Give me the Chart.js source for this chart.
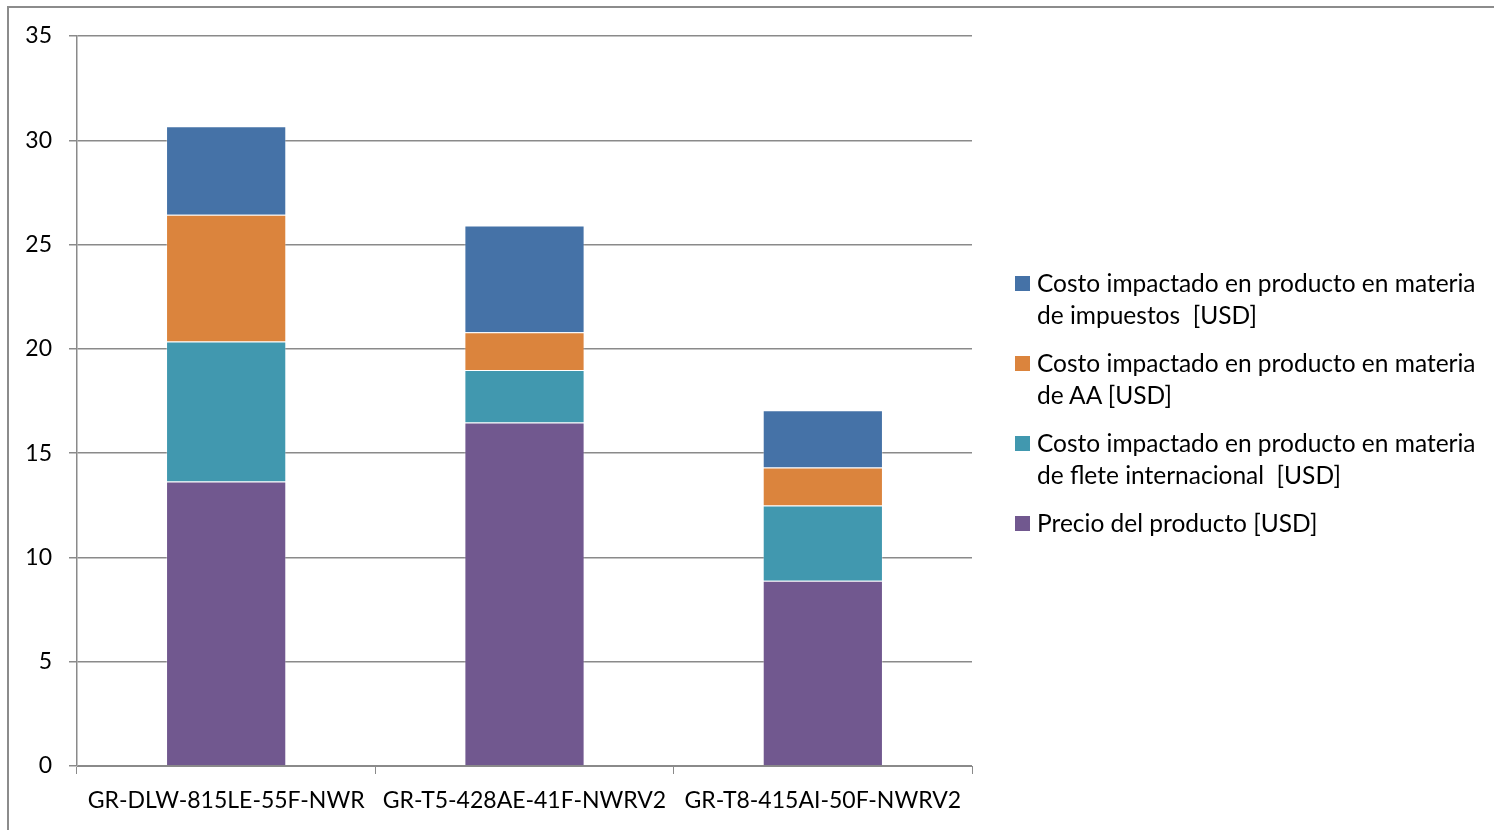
<!DOCTYPE html>
<html>
<head>
<meta charset="utf-8">
<script src="https://cdn.jsdelivr.net/npm/chart.js@4.4.0/dist/chart.umd.min.js"></script>
<style>
  body { margin: 0; background: #fff; width: 1494px; height: 830px; overflow: hidden; position: relative; font-family: Lato, "Open Sans", sans-serif; }
  #frame { position: absolute; left: 7px; top: 6px; width: 1600px; height: 900px; border-top: 2px solid #8c8c8c; border-left: 2px solid #8c8c8c; }
  #myChart { position: absolute; left: 0; top: 0; }
  #legend { position: absolute; left: 1015px; top: 267px; font-size: 24.5px; color: #000; }
  .item { position: relative; padding-left: 22px; line-height: 32px; margin-bottom: 16px; white-space: pre; }
  .item span.box { position: absolute; left: 0; top: 9px; width: 15px; height: 15px; }
</style>
</head>
<body>
<div id="frame"></div>
<canvas id="myChart" width="1494" height="830"></canvas>
<div id="legend"></div>
<script>
// categories and series (stack order bottom -> top)
const categories = ['GR-DLW-815LE-55F-NWR', 'GR-T5-428AE-41F-NWRV2', 'GR-T8-415AI-50F-NWRV2'];
const precio = [13.64, 16.47, 8.88];
const flete = [6.71, 2.52, 3.61];
const aa = [6.08, 1.81, 1.82];
const impuestos = [4.24, 5.11, 2.75];
const yTicks = [0, 5, 10, 15, 20, 25, 30, 35];

const seriesNames = [
  'Precio del producto [USD]',
  'Costo impactado en producto en materia\nde flete internacional  [USD]',
  'Costo impactado en producto en materia\nde AA [USD]',
  'Costo impactado en producto en materia\nde impuestos  [USD]',
];
const colors = ['#71588F', '#4198AF', '#DB843D', '#4572A7'];

const ctx = document.getElementById('myChart');
const font = { family: 'Lato, "Open Sans", sans-serif', size: 23 };
const gridColor = '#8a8a8a';

const barData = {
  labels: categories,
  datasets: [precio, flete, aa, impuestos].map((d, i) => ({
    label: seriesNames[i],
    data: d,
    backgroundColor: colors[i],
    borderColor: 'rgba(255,255,255,0.3)',
    borderWidth: 1,
    barPercentage: 1,
    categoryPercentage: 0.403,
  })),
};

new Chart(ctx, {
  type: 'bar',
  data: barData,
  options: {
    responsive: false,
    animation: false,
    layout: { padding: { top: 36, right: 522, bottom: 0, left: 0 } },
    plugins: { legend: { display: false }, tooltip: { enabled: false } },
    scales: {
      x: {
        stacked: true,
        grid: { drawOnChartArea: false, tickLength: 8, color: gridColor, offset: true },
        border: { color: gridColor, width: 1 },
        ticks: { font: font, color: '#000', padding: 13, maxRotation: 0 },
        afterFit: (s) => { s.height = 64; },
      },
      y: {
        stacked: true,
        min: 0,
        max: 35,
        afterBuildTicks: (s) => { s.ticks = yTicks.map(v => ({ value: v })); },
        grid: { color: gridColor, tickLength: 8, lineWidth: 1.5 },
        border: { color: gridColor, width: 1.5 },
        ticks: { font: font, color: '#000', padding: 17 },
        afterFit: (s) => { s.width = 77; },
      },
    },
  },
});

// legend, listed top of stack first
const legend = document.getElementById('legend');
for (let i = seriesNames.length - 1; i >= 0; i--) {
  const item = document.createElement('div');
  item.className = 'item';
  const box = document.createElement('span');
  box.className = 'box';
  box.style.background = colors[i];
  item.appendChild(box);
  item.appendChild(document.createTextNode(seriesNames[i]));
  legend.appendChild(item);
}
</script>
</body>
</html>
